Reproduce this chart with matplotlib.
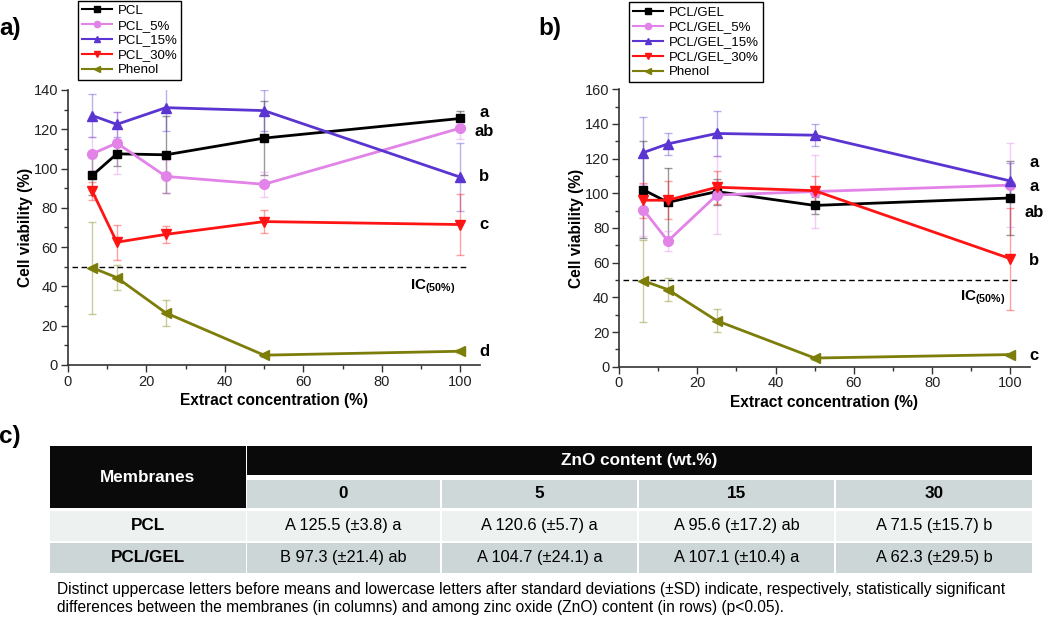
import matplotlib
matplotlib.use('Agg')
from matplotlib import pyplot as plt
from matplotlib.colors import to_rgba
from matplotlib.patches import Rectangle
from matplotlib.lines import Line2D

plt.rcParams['font.family'] = ['Liberation Sans', 'DejaVu Sans']
plt.rcParams['mathtext.fontset'] = 'custom'
plt.rcParams['mathtext.rm'] = 'Liberation Sans'
plt.rcParams['mathtext.bf'] = 'Liberation Sans:bold'

conc = [6.25, 12.5, 25, 50, 100]

# panel a (PCL)
pcl = [96.5, 107.5, 107, 115.5, 125.5]
pcl_err = [10, 6, 19.5, 19, 3.8]
pcl5 = [107.5, 113, 96, 92, 120.6]
pcl5_err = [8.5, 16, 8.5, 6.5, 5.7]
pcl15 = [127, 122.5, 131, 129.5, 95.6]
pcl15_err = [11, 6.5, 12, 10.5, 17.2]
pcl30 = [88.5, 62.5, 66.5, 73, 71.5]
pcl30_err = [4.5, 9, 4.5, 6, 15.7]
phenol = [49.5, 44.5, 26.5, 5, 7]
phenol_err = [23.5, 6.5, 6.5, 1, 1]

# panel b (PCL/GEL)
pg = [102, 94.8, 101, 93, 97.3]
pg_err = [28, 20, 7.5, 5, 21.4]
pg5 = [90.5, 72.5, 99, 101, 104.7]
pg5_err = [15, 6, 22.5, 21, 24.1]
pg15 = [123.5, 128.5, 134.5, 133.5, 107.1]
pg15_err = [20.5, 6.5, 13, 6.5, 10.4]
pg30 = [96, 96, 103.5, 101.5, 62.3]
pg30_err = [10, 11, 9.5, 8.5, 29.5]

letters_a = ['a', 'ab', 'b', 'c', 'd']
letters_a_y = [128.5, 119, 96, 71.5, 7]
letters_b = ['a', 'a', 'ab', 'b', 'c']
letters_b_y = [117.5, 104, 89, 61.5, 6.7]

# table (c)
zno_levels = ['0', '5', '15', '30']
membranes = ['PCL', 'PCL/GEL']
table_rows = [
    ['A 125.5 (\u00b13.8) a', 'A 120.6 (\u00b15.7) a', 'A 95.6 (\u00b117.2) ab', 'A 71.5 (\u00b115.7) b'],
    ['B 97.3 (\u00b121.4) ab', 'A 104.7 (\u00b124.1) a', 'A 107.1 (\u00b110.4) a', 'A 62.3 (\u00b129.5) b'],
]
footnote = ('Distinct uppercase letters before means and lowercase letters after standard deviations (\u00b1SD) '
            'indicate, respectively, statistically significant\n'
            'differences between the membranes (in columns) and among zinc oxide (ZnO) content (in rows) (p<0.05).')

colors = ['#000000', '#e283e8', '#5a35d2', '#ff1414', '#7d7d0a']
markers = ['s', 'o', '^', 'v', '<']
msizes = [6, 7, 7.5, 7.5, 7.5]

fig = plt.figure(figsize=(10.5, 6.18), dpi=100)

# pixel-space overlay for the table and panel tags
tax = fig.add_axes([0, 0, 1, 1])
tax.set_xlim(0, 1050)
tax.set_ylim(618, 0)
tax.axis('off')


def draw_panel(rect, series, errs, names, ymax, letters, letters_y, legend_xy):
    ax = fig.add_axes(rect)
    handles = []
    for y, e, c, m, ms, name in zip(series, errs, colors, markers, msizes, names):
        ax.errorbar(conc, y, yerr=e, fmt='none', ecolor=to_rgba(c, 0.4),
                    elinewidth=1.0, capsize=3, capthick=1.0, zorder=2)
        ax.plot(conc, y, color=c, marker=m, ms=ms, lw=2, zorder=3)
        handles.append(Line2D([], [], color=c, marker=m, ms=4.5, lw=1.5, label=name))
    ax.hlines(50, 1, 102, colors='black', linestyles=(0, (4, 2.5)), lw=1)
    ax.text(93, 40, r'$\mathbf{IC_{(50\%)}}$', ha='center', va='center', fontsize=11)
    for t, yy in zip(letters, letters_y):
        ax.text(106, yy, t, ha='center', va='center', fontsize=12, fontweight='bold', clip_on=False)
    ax.set_xlim(0, 105)
    ax.set_ylim(0, ymax)
    ax.set_xticks(range(0, 101, 20))
    ax.set_xticks(range(10, 101, 20), minor=True)
    ax.set_yticks(range(0, ymax + 1, 20))
    ax.set_yticks(range(10, ymax, 20), minor=True)
    for s in ['top', 'right']:
        ax.spines[s].set_visible(False)
    for s in ['left', 'bottom']:
        ax.spines[s].set_color('#333333')
        ax.spines[s].set_linewidth(1.2)
    ax.tick_params(which='major', direction='out', length=5, width=1, labelsize=10.5, pad=2,
                   colors='#333333', labelcolor='#222222')
    ax.tick_params(which='minor', direction='out', length=3, width=1, colors='#333333')
    ax.set_xlabel('Extract concentration (%)', fontsize=11.2, fontweight='bold', labelpad=3)
    ax.set_ylabel('Cell viability (%)', fontsize=11.2, fontweight='bold', labelpad=0.5)
    fig.legend(handles=handles, loc='upper left', bbox_to_anchor=legend_xy, fontsize=9.5,
               frameon=True, fancybox=False, edgecolor='black', framealpha=1,
               handlelength=2.3, handletextpad=0.4, labelspacing=0.2, borderpad=0.3, borderaxespad=0)
    return ax


draw_panel([0.0645, 0.4094, 0.3927, 0.445],
           [pcl, pcl5, pcl15, pcl30, phenol],
           [pcl_err, pcl5_err, pcl15_err, pcl30_err, phenol_err],
           ['PCL', 'PCL_5%', 'PCL_15%', 'PCL_30%', 'Phenol'],
           140, letters_a, letters_a_y, (78 / 1050, 0.999))
draw_panel([0.5895, 0.4066, 0.3914, 0.449],
           [pg, pg5, pg15, pg30, phenol],
           [pg_err, pg5_err, pg15_err, pg30_err, phenol_err],
           ['PCL/GEL', 'PCL/GEL_5%', 'PCL/GEL_15%', 'PCL/GEL_30%', 'Phenol'],
           160, letters_b, letters_b_y, (629 / 1050, 0.996))

tax.text(-1, 29, 'a)', fontsize=17.5, fontweight='bold', va='center', ha='left')
tax.text(538, 28, 'b)', fontsize=17.5, fontweight='bold', va='center', ha='left')
tax.text(-1, 436, 'c)', fontsize=17.5, fontweight='bold', va='center', ha='left')

# table geometry (pixels)
col_edges = [(50, 245.5), (246.5, 440), (442, 637), (639, 834), (836, 1032)]
row1 = (446, 475)
row2 = (480, 508)
row3 = (511, 540.5)
row4 = (542.5, 572.5)
black = '#0a0a0a'
head_gray = '#cfd8d8'
light = '#edf2f0'
dark = '#cdd6d6'


def cell(x0, x1, y0, y1, fc):
    tax.add_patch(Rectangle((x0, y0), x1 - x0, y1 - y0, facecolor=fc, edgecolor='none'))


cell(col_edges[0][0], col_edges[0][1], row1[0], row2[1], black)
cell(col_edges[1][0], col_edges[4][1], row1[0], row1[1], black)
tax.text(sum(col_edges[0]) / 2, (row1[0] + row2[1]) / 2, 'Membranes', color='white',
         fontsize=12.3, fontweight='bold', ha='center', va='center')
tax.text((col_edges[1][0] + col_edges[4][1]) / 2, sum(row1) / 2, 'ZnO content (wt.%)', color='white',
         fontsize=12.3, fontweight='bold', ha='center', va='center')
for (x0, x1), lev in zip(col_edges[1:], zno_levels):
    cell(x0, x1, row2[0], row2[1], head_gray)
    tax.text((x0 + x1) / 2, sum(row2) / 2, lev, fontsize=12.3, fontweight='bold', ha='center', va='center')
for rows, fc, name, vals in zip([row3, row4], [light, dark], membranes, table_rows):
    cell(col_edges[0][0], col_edges[0][1], rows[0], rows[1], fc)
    tax.text(sum(col_edges[0]) / 2, sum(rows) / 2, name, fontsize=12.3, fontweight='bold',
             ha='center', va='center')
    for (x0, x1), v in zip(col_edges[1:], vals):
        cell(x0, x1, rows[0], rows[1], fc)
        tax.text((x0 + x1) / 2, sum(rows) / 2, v, fontsize=11.8, ha='center', va='center')

tax.text(57, 582, footnote, fontsize=11.2, ha='left', va='top', linespacing=1.25)

fig.savefig('out.png', dpi=100)
